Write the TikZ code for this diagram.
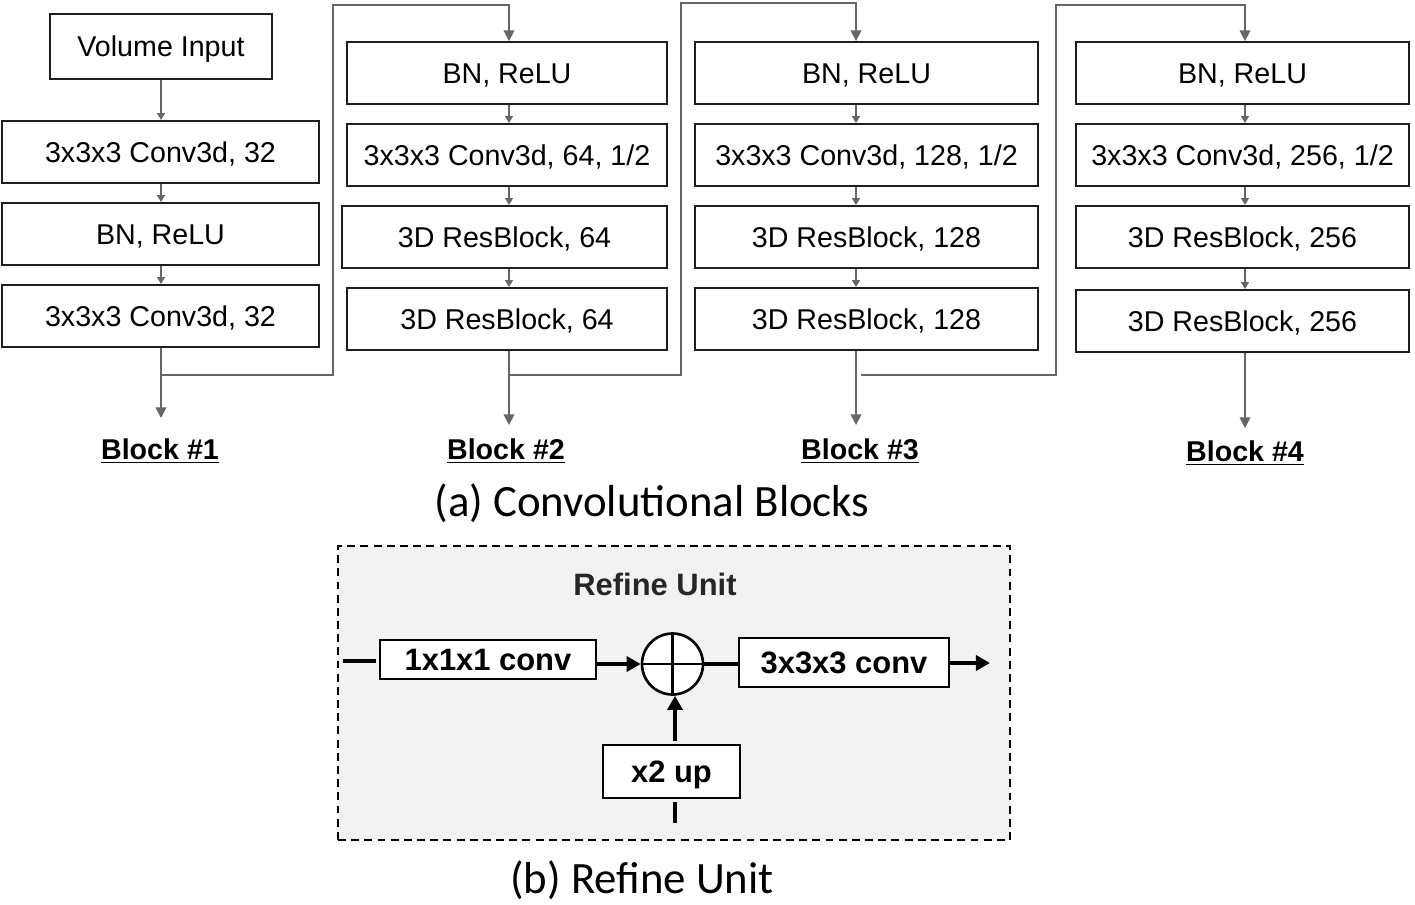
\documentclass[tikz,border=0pt]{standalone}
\usepackage{fontspec}
\setmainfont{Liberation Sans}
\newfontfamily\capfont{Carlito}
\usetikzlibrary{arrows.meta}
\definecolor{conn}{HTML}{666666}
\definecolor{bord}{HTML}{1E1E1E}
\definecolor{panel}{HTML}{F2F2F2}
\newcommand{\bx}[6]{\node[bx, minimum width={(#4-#2)*0.02cm}, minimum height={(#5-#3)*0.02cm}] (#1) at ({(#2+#4)/2},{(#3+#5)/2}) {#6};}
\newcommand{\rbx}[6]{\node[rbx, minimum width={(#4-#2)*0.02cm}, minimum height={(#5-#3)*0.02cm}] (#1) at ({(#2+#4)/2},{(#3+#5)/2}) {#6};}
\begin{document}
\begin{tikzpicture}[x=0.02cm,y=-0.02cm,
  bx/.style={draw=bord, line width=1.1pt, fill=white, inner sep=0pt, text height=11.7pt, text depth=0pt, font=\fontsize{16.3}{19}\selectfont},
  rbx/.style={draw=black, line width=1.4pt, fill=white, inner sep=0pt, text height=12.6pt, text depth=0pt, font=\fontsize{17.6}{20}\selectfont\bfseries},
  garr/.style={draw=conn, line width=1pt, -{Triangle[width=6pt,length=6pt]}},
  sarr/.style={draw=conn, line width=1pt, -{Triangle[width=4.5pt,length=4pt]}},
  rline/.style={draw=black, line width=2pt},
  rarr/.style={draw=black, line width=2pt, -{Triangle[width=8.5pt,length=8pt]}},
  blab/.style={font=\fontsize{16.3}{19}\selectfont\bfseries, inner sep=0pt},
  captxt/.style={font=\capfont\fontsize{25.5}{30}\selectfont, inner sep=0pt}]
\useasboundingbox (0,0) rectangle (1415,904);

% ---- Column 1
\bx{a0}{50}{14}{272}{79}{Volume Input}
\bx{a1}{2}{121}{319}{183}{3x3x3 Conv3d, 32}
\bx{a2}{2}{203}{319}{265}{BN, ReLU}
\bx{a3}{2}{285}{319}{347}{3x3x3 Conv3d, 32}
% ---- Column 2
\bx{b1}{347}{42}{667}{104}{BN, ReLU}
\bx{b2}{347}{124}{667}{186}{3x3x3 Conv3d, 64, 1/2}
\bx{b3}{342}{206}{667}{268}{3D ResBlock, 64}
\bx{b4}{347}{288}{667}{350}{3D ResBlock, 64}
% ---- Column 3
\bx{c1}{695}{42}{1038}{104}{BN, ReLU}
\bx{c2}{695}{124}{1038}{186}{3x3x3 Conv3d, 128, 1/2}
\bx{c3}{695}{206}{1038}{268}{3D ResBlock, 128}
\bx{c4}{695}{288}{1038}{350}{3D ResBlock, 128}
% ---- Column 4
\bx{d1}{1076}{42}{1409}{104}{BN, ReLU}
\bx{d2}{1076}{124}{1409}{186}{3x3x3 Conv3d, 256, 1/2}
\bx{d3}{1076}{206}{1409}{268}{3D ResBlock, 256}
\bx{d4}{1076}{290}{1409}{352}{3D ResBlock, 256}

% arrow x positions
\coordinate (xa) at (161,0);
\coordinate (xb) at (509,0);
\coordinate (xc) at (856,0);
\coordinate (xd) at (1245,0);

% in-column arrows
\draw[sarr] (a0.south -| xa) -- (a1.north -| xa);
\draw[sarr] (a1.south -| xa) -- (a2.north -| xa);
\draw[sarr] (a2.south -| xa) -- (a3.north -| xa);
\draw[sarr] (b1.south -| xb) -- (b2.north -| xb);
\draw[sarr] (b2.south -| xb) -- (b3.north -| xb);
\draw[sarr] (b3.south -| xb) -- (b4.north -| xb);
\draw[sarr] (c1.south -| xc) -- (c2.north -| xc);
\draw[sarr] (c2.south -| xc) -- (c3.north -| xc);
\draw[sarr] (c3.south -| xc) -- (c4.north -| xc);
\draw[sarr] (d1.south -| xd) -- (d2.north -| xd);
\draw[sarr] (d2.south -| xd) -- (d3.north -| xd);
\draw[sarr] (d3.south -| xd) -- (d4.north -| xd);

% block outputs
\coordinate (ea) at (161,418);
\coordinate (eb) at (509,425);
\coordinate (ec) at (856,425);
\coordinate (ed) at (1245,428);
\draw[garr] (a3.south -| xa) -- (ea);
\draw[garr] (b4.south -| xb) -- (eb);
\draw[garr] (c4.south -| xc) -- (ec);
\draw[garr] (d4.south -| xd) -- (ed);

\node[blab] (la) at (160,451) {\underline{Block \#1}};
\node[blab] (lb) at (506,451) {\underline{Block \#2}};
\node[blab] (lc) at (860,451) {\underline{Block \#3}};
\node[blab] (ld) at (1245,453) {\underline{Block \#4}};

% connectors between blocks
\coordinate (ja) at (161,375);
\coordinate (ua) at (333,5);
\coordinate (jb) at (509,375);
\coordinate (ub) at (681,3);
\coordinate (jc) at (861,375);
\coordinate (uc) at (1056,5);
\draw[garr] (ja) -| (ua) -| (b1.north -| xb);
\draw[garr] (jb) -| (ub) -| (c1.north -| xc);
\draw[garr] (jc) -| (uc) -| (d1.north -| xd);

\node[captxt] (capa) at (652,503) {(a) Convolutional Blocks};

% ---- Refine unit
\node[draw=black, dashed, dash pattern=on 4.5pt off 3pt, line width=1.2pt, fill=panel, inner sep=0pt,
  minimum width={672*0.02cm}, minimum height={294*0.02cm}] (panel) at (674,693) {};
\node[font=\fontsize{17.6}{20}\selectfont\bfseries, text=black!85] (rt) at (655,584) {Refine Unit};
\rbx{r1}{380}{640}{596}{679}{1x1x1 conv}
\rbx{r3}{739}{638}{949}{687}{3x3x3 conv}
\rbx{ru}{603}{745}{740}{798}{x2 up}
\node[draw=black, line width=1.5pt, circle, minimum size={61*0.02cm}, inner sep=0pt, fill=white] (pl) at (672.5,664) {};
\draw[line width=1.3pt] (pl.north) -- (pl.south) (pl.west) -- (pl.east);

\coordinate (in1) at (343,661);
\coordinate (in2) at (376,661);
\coordinate (out) at (990,663);
\coordinate (up1) at (675,741);
\coordinate (dn1) at (675,802);
\coordinate (dn2) at (675,823);
\draw[rline] (in1) -- (in2);
\draw[rarr] (r1.east |- pl) -- (pl.west);
\draw[rline] (pl.east) -- (r3.west |- pl);
\draw[rarr] (r3.east |- out) -- (out);
\draw[rarr] (up1) -- (pl.south -| up1);
\draw[rline] (dn1) -- (dn2);

\node[captxt] (capb) at (642,880) {(b) Refine Unit};
\end{tikzpicture}
\end{document}
